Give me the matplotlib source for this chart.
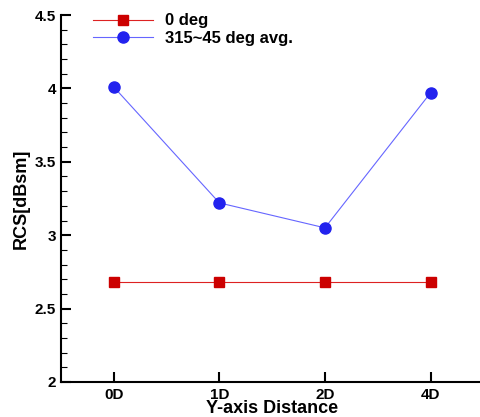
import matplotlib
matplotlib.use("Agg")
import matplotlib.pyplot as plt
from matplotlib.ticker import MultipleLocator

# data
categories = ["0D", "1D", "2D", "4D"]
rcs_0deg = [2.68, 2.68, 2.68, 2.68]
rcs_avg = [4.01, 3.22, 3.05, 3.97]
yticks = [2, 2.5, 3, 3.5, 4, 4.5]
ytick_labels = ["2", "2.5", "3", "3.5", "4", "4.5"]

plt.rcParams["font.family"] = ["Liberation Sans", "DejaVu Sans"]
plt.rcParams["font.weight"] = "bold"

fig = plt.figure(figsize=(4.8, 4.17), dpi=100)
ax = fig.add_axes([0.127, 0.084, 0.88, 0.88])

x = list(range(len(categories)))
ax.plot(x, rcs_0deg, color="#dd2222", lw=0.8, marker="s", ms=7,
        mfc="#cc0000", mec="#cc0000", label="0 deg")
ax.plot(x, rcs_avg, color="#6666ff", lw=0.8, marker="o", ms=8,
        mfc="#2222ee", mec="#2222ee", label="315~45 deg avg.")

ax.set_xlim(-0.5, 3.5)
ax.set_ylim(2, 4.5)
ax.set_xticks(x)
ax.set_xticklabels(categories)
ax.set_yticks(yticks)
ax.set_yticklabels(ytick_labels)
ax.yaxis.set_minor_locator(MultipleLocator(0.1))

for side in ("top", "right"):
    ax.spines[side].set_visible(False)
for side in ("left", "bottom"):
    ax.spines[side].set_linewidth(1.5)

ax.tick_params(axis="both", which="major", direction="in", length=7, width=1.5,
               labelsize=11)
ax.tick_params(axis="y", which="minor", direction="in", length=4, width=0.8)
ax.tick_params(axis="x", pad=4)

ax.set_xlabel("Y-axis Distance", fontsize=13, fontweight="bold", labelpad=-1)
ax.set_ylabel("RCS[dBsm]", fontsize=13, fontweight="bold", labelpad=4)

ax.legend(loc="upper left", bbox_to_anchor=(0.04, 1.045), frameon=False,
          fontsize=12, handlelength=3.6, handletextpad=0.7, labelspacing=0.15)

fig.savefig("out.png", dpi=100)
